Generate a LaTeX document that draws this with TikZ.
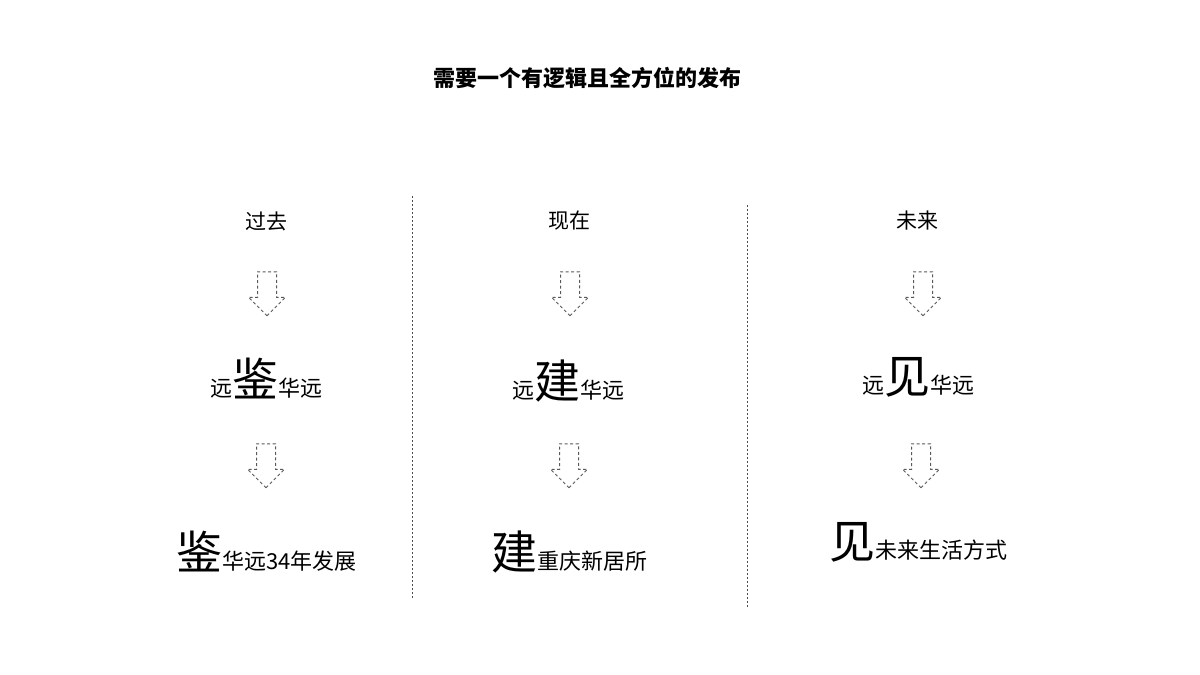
\documentclass[tikz,border=0pt]{standalone}
\usepackage{fontspec}
\setmainfont{Noto Sans CJK SC}
\usetikzlibrary{shapes.arrows}

\newcommand{\keychar}[1]{{\fontsize{46}{50}\selectfont #1}}

\begin{document}
\begin{tikzpicture}[
	x=1pt,
	y=-1pt,
	title node/.style={font=\fontsize{22}{26}\selectfont\bfseries},
	head node/.style={font=\fontsize{21}{25}\selectfont},
	line node/.style={anchor=base,inner sep=0pt,font=\fontsize{22}{26}\selectfont},
	down node/.style={single arrow,shape border rotate=270,draw=black!65,dash pattern=on 3pt off 2.5pt,line width=1pt,minimum height=44pt,minimum width=36pt,single arrow head extend=9pt,inner sep=0pt},
	split/.style={draw=black!70,dash pattern=on 2pt off 2pt,line width=0.8pt}
]
\useasboundingbox (0,0) rectangle (1200,675);

\node[title node] (title) at (587,78) {需要一个有逻辑且全方位的发布};

\coordinate (s1top) at (412,196);
\coordinate (s1bot) at (412,598);
\coordinate (s2top) at (747,205);
\coordinate (s2bot) at (747,607);
\draw[split] (s1top) -- (s1bot);
\draw[split] (s2top) -- (s2bot);

% past
\node[head node] (past) at (266,221) {过去};
\node[down node] (pastA) at (267,289) {\phantom{\rule{18pt}{18pt}}};
\node[line node] (pastMid) at (266.5,396) {远\keychar{鉴}华远};
\node[down node] (pastB) at (266,461) {\phantom{\rule{18pt}{18pt}}};
\node[line node] (pastEnd) at (266.5,569) {\keychar{鉴}华远34年发展};

% now
\node[head node] (now) at (569,221) {现在};
\node[down node] (nowA) at (570,289) {\phantom{\rule{18pt}{18pt}}};
\node[line node] (nowMid) at (568.5,398) {远\keychar{建}华远};
\node[down node] (nowB) at (569,461) {\phantom{\rule{18pt}{18pt}}};
\node[line node] (nowEnd) at (569,569) {\keychar{建}重庆新居所};

% future
\node[head node] (future) at (917,221) {未来};
\node[down node] (futureA) at (923,289) {\phantom{\rule{18pt}{18pt}}};
\node[line node] (futureMid) at (918,393) {远\keychar{见}华远};
\node[down node] (futureB) at (921,461) {\phantom{\rule{18pt}{18pt}}};
\node[line node] (futureEnd) at (918.5,558) {\keychar{见}未来生活方式};
\end{tikzpicture}
\end{document}
